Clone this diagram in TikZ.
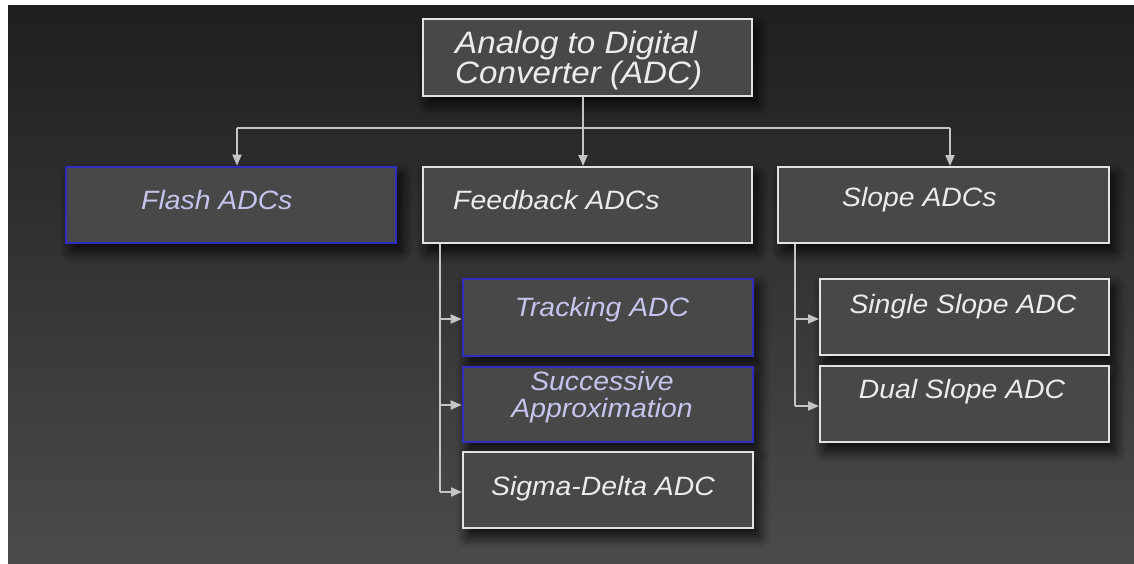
\documentclass[tikz,border=0pt]{standalone}
\usepackage{fontspec}
\setmainfont{Liberation Sans}[FakeStretch=1.07]
\usetikzlibrary{arrows.meta,shadows.blur}
\definecolor{bgtop}{HTML}{1F1F1F}
\definecolor{bgbot}{HTML}{4B4B4B}
\definecolor{boxfill}{HTML}{484848}
\definecolor{boxline}{HTML}{E2E2E2}
\definecolor{blueline}{HTML}{2E2EC0}
\definecolor{wiretone}{HTML}{C4C4C4}
\definecolor{txtwhite}{HTML}{ECECEC}
\definecolor{txtblue}{HTML}{C4C4EC}
\tikzset{
  box/.style={draw=boxline, line width=2pt, fill=boxfill, rectangle, inner sep=0pt,
    blur shadow={shadow xshift=5pt, shadow yshift=-8pt, shadow blur radius=12pt, shadow blur steps=14, shadow opacity=90}},
  bluebox/.style={box, draw=blueline, line width=2.6pt},
  txt/.style={font=\itshape\fontsize{26.5}{29}\selectfont, text=txtwhite, inner sep=0pt, align=center},
  bluetxt/.style={txt, text=txtblue},
  wire/.style={draw=wiretone, line width=1.8pt},
  arr/.style={wire, -{Triangle[length=11pt,width=9pt]}},
}
\begin{document}
\begin{tikzpicture}[x=1pt,y=-1pt]
\useasboundingbox (0,0) rectangle (1134,563);
\fill[white] (0,0) rectangle (1134,563);
\shade[top color=bgtop, bottom color=bgbot] (8,5) rectangle (1134,563);

% boxes
\node[box, minimum width=329pt, minimum height=77pt] (root) at (587.5,57.5) {};
\node[bluebox, minimum width=330pt, minimum height=76pt] (flash) at (231,205) {};
\node[box, minimum width=329pt, minimum height=76pt] (feed) at (587.5,205) {};
\node[box, minimum width=331pt, minimum height=76pt] (slope) at (943.5,205) {};
\node[bluebox, minimum width=290pt, minimum height=77pt] (track) at (608,317.5) {};
\node[bluebox, minimum width=290pt, minimum height=75pt] (succ) at (608,404.5) {};
\node[box, minimum width=290pt, minimum height=76pt] (sigma) at (608,490) {};
\node[box, minimum width=289pt, minimum height=76pt] (single) at (964.5,317) {};
\node[box, minimum width=289pt, minimum height=76pt] (dual) at (964.5,404) {};

% texts
\node[txt, anchor=west, align=left, font=\itshape\fontsize{31}{30}\selectfont] (roott) at (455,60) {Analog to Digital\\Converter (ADC)};
\node[bluetxt, anchor=west] (flasht) at (141,200) {Flash ADCs};
\node[txt, anchor=west] (feedt) at (453,200) {Feedback ADCs};
\node[txt, anchor=west] (slopet) at (842,200) {Slope ADCs};
\node[bluetxt] (trackt) at (602,310) {Tracking ADC};
\node[bluetxt, font=\itshape\fontsize{26.5}{27}\selectfont] (succt) at (602,397) {Successive\\Approximation};
\node[txt] (sigmat) at (603,489) {Sigma-Delta ADC};
\node[txt] (singlet) at (963,307) {Single Slope ADC};
\node[txt] (dualt) at (962,392) {Dual Slope ADC};

% connectors
\coordinate (bus) at (583,128);
\coordinate (busL) at (237,128);
\coordinate (busR) at (950,128);
\draw[wire] (busL) -- (busR);
\draw[arr] (root.south -| bus) -- (feed.north -| bus);
\draw[arr] (busL) -- (flash.north -| busL);
\draw[arr] (busR) -- (slope.north -| busR);

\coordinate (fbx) at (440,0);
\coordinate (fbend) at (440,492);
\draw[wire] (feed.south -| fbx) -- (fbend);
\draw[arr] (fbx |- 0,319) -- (track.west |- 0,319);
\draw[arr] (fbx |- 0,405) -- (succ.west |- 0,405);
\draw[arr] (fbend) -- (sigma.west |- fbend);

\coordinate (slx) at (795,0);
\coordinate (slend) at (795,406);
\draw[wire] (slope.south -| slx) -- (slend);
\draw[arr] (slx |- 0,319) -- (single.west |- 0,319);
\draw[arr] (slend) -- (dual.west |- slend);
\end{tikzpicture}
\end{document}
